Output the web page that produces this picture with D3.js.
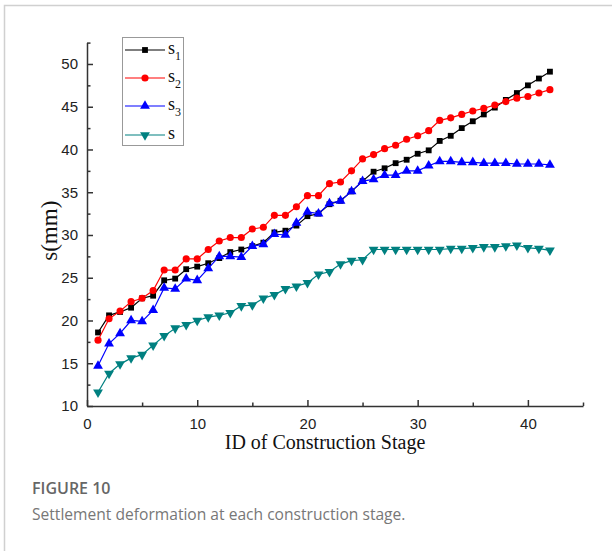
<!DOCTYPE html>
<html>
<head>
<meta charset="utf-8">
<script src="https://cdn.jsdelivr.net/npm/d3@7"></script>
<style>
  body { margin: 0; background: #fff; }
  svg { display: block; }
</style>
</head>
<body>
<div id="chart"></div>
<script>
// Stage ids and settlement values (mm)
const stages = d3.range(1, 43);
const s1 = [18.6, 20.6, 21.0, 21.5, 22.6, 22.9, 24.7, 24.9, 26.0, 26.3, 26.7, 27.3, 28.0, 28.3,
  28.7, 29.1, 30.3, 30.5, 31.1, 32.2, 32.5, 33.6, 34.0, 35.1, 36.3, 37.4, 37.8, 38.4,
  38.8, 39.5, 39.9, 41.0, 41.6, 42.5, 43.3, 44.1, 44.9, 45.8, 46.6, 47.5, 48.3, 49.1];
const s2 = [17.7, 20.2, 21.1, 22.2, 22.6, 23.5, 25.9, 25.9, 27.2, 27.2, 28.3, 29.3, 29.7, 29.7,
  30.7, 30.9, 32.3, 32.3, 33.3, 34.6, 34.6, 36.0, 36.2, 37.5, 38.9, 39.4, 40.1, 40.5,
  41.2, 41.6, 42.2, 43.4, 43.7, 44.1, 44.5, 44.8, 45.2, 45.6, 46.0, 46.2, 46.6, 47.0];
const s3 = [14.7, 17.3, 18.5, 20.0, 19.9, 21.2, 23.8, 23.7, 24.9, 24.7, 26.1, 27.5, 27.5, 27.4,
  28.7, 28.9, 30.1, 30.0, 31.4, 32.7, 32.5, 33.7, 34.0, 35.1, 36.3, 36.5, 37.0, 37.0,
  37.5, 37.5, 38.1, 38.6, 38.6, 38.5, 38.5, 38.4, 38.4, 38.4, 38.3, 38.3, 38.3, 38.2];
const s = [11.6, 13.8, 14.9, 15.6, 16.0, 17.1, 18.2, 19.1, 19.5, 20.0, 20.4, 20.6, 20.9, 21.7,
  21.8, 22.6, 23.0, 23.7, 24.0, 24.4, 25.4, 25.7, 26.6, 27.0, 27.1, 28.3, 28.3, 28.3,
  28.3, 28.3, 28.3, 28.3, 28.4, 28.4, 28.5, 28.6, 28.6, 28.7, 28.8, 28.5, 28.4, 28.2];

const xMajor = [0, 10, 20, 30, 40];
const xMinor = [5, 15, 25, 35, 45];
const yMajor = [10, 15, 20, 25, 30, 35, 40, 45, 50];
const yMinor = [12.5, 17.5, 22.5, 27.5, 32.5, 37.5, 42.5, 47.5, 52.5];

const series = [
  { name: "s", sub: "1", values: s1, color: "#000000", symbol: d3.symbolSquare, size: 34, rotate: 0 },
  { name: "s", sub: "2", values: s2, color: "#ff0000", symbol: d3.symbolCircle, size: 40, rotate: 0 },
  { name: "s", sub: "3", values: s3, color: "#0000ff", symbol: d3.symbolTriangle, size: 42, rotate: 0 },
  { name: "s", sub: "", values: s, color: "#008080", symbol: d3.symbolTriangle, size: 42, rotate: 180 }
];

const width = 612;
const height = 551;

const svg = d3.select("#chart")
  .append("svg")
  .attr("width", width)
  .attr("height", height);

// light frame round the figure
svg.append("rect")
  .attr("x", 4.5)
  .attr("y", 5.5)
  .attr("width", 700)
  .attr("height", 700)
  .attr("fill", "none")
  .attr("stroke", "#d0d0d0")
  .attr("stroke-width", 1.5);

const xScale = d3.scaleLinear().domain([0, 45]).range([87, 583]);
const yScale = d3.scaleLinear().domain([10, 52.5]).range([406, 42.6]);

const axisColor = "#333";

// x axis (ticks point inward)
const xAxis = svg.append("g")
  .attr("transform", `translate(0,${yScale(10)})`)
  .call(d3.axisBottom(xScale).tickValues(xMajor).tickSizeInner(-6).tickSizeOuter(0).tickPadding(12));
xAxis.selectAll("text")
  .attr("font-family", "'Liberation Sans', Arial, sans-serif")
  .attr("font-size", "15px")
  .attr("fill", "#222");

svg.append("g")
  .attr("transform", `translate(0,${yScale(10)})`)
  .call(d3.axisBottom(xScale).tickValues(xMinor).tickSizeInner(-3.5).tickSizeOuter(0).tickFormat(""))
  .select(".domain").remove();

// y axis
const yAxis = svg.append("g")
  .attr("transform", `translate(${xScale(0)},0)`)
  .call(d3.axisLeft(yScale).tickValues(yMajor).tickSizeInner(-6).tickSizeOuter(0).tickPadding(9));
yAxis.selectAll("text")
  .attr("font-family", "'Liberation Sans', Arial, sans-serif")
  .attr("font-size", "15px")
  .attr("fill", "#222");

svg.append("g")
  .attr("transform", `translate(${xScale(0)},0)`)
  .call(d3.axisLeft(yScale).tickValues(yMinor).tickSizeInner(-3.5).tickSizeOuter(0).tickFormat(""))
  .select(".domain").remove();

svg.selectAll(".domain, .tick line")
  .attr("stroke", axisColor)
  .attr("stroke-width", 1.5);

// axis titles
svg.append("text")
  .attr("x", (xScale(0) + xScale(45)) / 2 - 10)
  .attr("y", 449)
  .attr("text-anchor", "middle")
  .attr("font-family", "'Liberation Serif', 'Times New Roman', serif")
  .attr("font-size", "20px")
  .attr("fill", "#111")
  .text("ID of Construction Stage");

svg.append("text")
  .attr("transform", `translate(57,${yScale(30.5)}) rotate(-90)`)
  .attr("text-anchor", "middle")
  .attr("font-family", "'Liberation Serif', 'Times New Roman', serif")
  .attr("font-size", "23px")
  .attr("fill", "#111")
  .text("s(mm)");

// lines and markers
const line = d3.line()
  .x((d, i) => xScale(stages[i]))
  .y((d) => yScale(d));

series.forEach((ser) => {
  svg.append("path")
    .datum(ser.values)
    .attr("fill", "none")
    .attr("stroke", ser.color)
    .attr("stroke-width", 1.2)
    .attr("d", line);

  svg.append("g")
    .selectAll("path")
    .data(ser.values)
    .enter()
    .append("path")
    .attr("d", d3.symbol().type(ser.symbol).size(ser.size))
    .attr("transform", (d, i) => `translate(${xScale(stages[i])},${yScale(d)}) rotate(${ser.rotate})`)
    .attr("fill", ser.color);
});

// legend
const legend = svg.append("g");
legend.append("rect")
  .attr("x", 122.5)
  .attr("y", 37.5)
  .attr("width", 61)
  .attr("height", 108)
  .attr("fill", "#fff")
  .attr("stroke", "#999")
  .attr("stroke-width", 1);

const rowY = [50, 78, 106, 135];
series.forEach((ser, i) => {
  const y = rowY[i];
  legend.append("line")
    .attr("x1", 125)
    .attr("x2", 165)
    .attr("y1", y)
    .attr("y2", y)
    .attr("stroke", ser.color)
    .attr("stroke-width", 1.2);
  legend.append("path")
    .attr("d", d3.symbol().type(ser.symbol).size(ser.size))
    .attr("transform", `translate(145,${y}) rotate(${ser.rotate})`)
    .attr("fill", ser.color);
  const label = legend.append("text")
    .attr("x", 168)
    .attr("y", y + 4)
    .attr("font-family", "'Liberation Serif', 'Times New Roman', serif")
    .attr("font-size", "18px")
    .attr("fill", "#111")
    .text(ser.name);
  if (ser.sub) {
    label.append("tspan")
      .attr("dy", 6)
      .attr("font-size", "12px")
      .text(ser.sub);
  }
});

// caption
svg.append("text")
  .attr("x", 32)
  .attr("y", 494)
  .attr("font-family", "'Open Sans', 'Noto Sans', sans-serif")
  .attr("font-size", "16px")
  .attr("font-weight", 600)
  .attr("fill", "#666")
  .text("FIGURE 10");

svg.append("text")
  .attr("x", 32)
  .attr("y", 520)
  .attr("font-family", "'Open Sans', 'Noto Sans', sans-serif")
  .attr("font-size", "15.6px")
  .attr("fill", "#777")
  .text("Settlement deformation at each construction stage.");
</script>
</body>
</html>
